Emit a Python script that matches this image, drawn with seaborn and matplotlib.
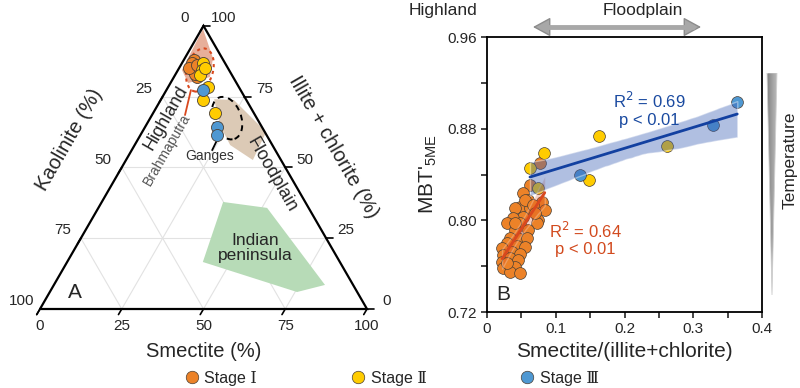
import numpy as np
import matplotlib
matplotlib.use('Agg')
import matplotlib.pyplot as plt
import seaborn as sns
from matplotlib.patches import Polygon, Ellipse, FancyArrowPatch
from matplotlib.lines import Line2D

sns.set_style('white')
plt.rcParams['font.family'] = ['Liberation Sans', 'DejaVu Sans']

# ---- data: ternary clay mineralogy (smectite %, illite+chlorite %) ----
tern_s1 = [3, 3, 6, 7, 6, 3, 5]
tern_i1 = [88, 87, 84, 82, 83, 85, 86]
tern_s2 = [6.4, 7.3, 7.6, 8.0, 12.2, 12.9, 18.9]
tern_i2 = [86.9, 84.4, 82.7, 85.1, 78.4, 73.8, 69.2]
tern_s3 = [11.2, 22.0, 23.4]
tern_i3 = [77.3, 64.3, 61.4]

# source fields (smectite %, illite+chlorite %)
brahma_s = [0.4, 8.6, 11.0, 5.4, 1.2]
brahma_i = [98.9, 88.6, 81.9, 79.8, 84.4]
ganges_s = [16.2, 22.4, 37.9, 38.8, 29.2, 22.5]
ganges_i = [74.1, 73.8, 62.5, 52.6, 57.9, 65.0]
india_s = [37.1, 51.6, 82.9, 75.6, 41.5]
india_i = [37.8, 35.7, 8.5, 6.0, 16.6]

# ---- data: MBT'5ME vs smectite/(illite+chlorite) ----
ratio1 = [0.0625, 0.052, 0.060, 0.048, 0.080, 0.084, 0.0625, 0.041, 0.052, 0.074,
          0.038, 0.029, 0.048, 0.073, 0.041, 0.060, 0.033, 0.048, 0.058, 0.029,
          0.044, 0.055, 0.022, 0.036, 0.048, 0.023, 0.033, 0.045, 0.022, 0.031,
          0.041, 0.023, 0.033, 0.048, 0.029, 0.055, 0.067, 0.077, 0.041, 0.070]
mbt1 = [0.831, 0.824, 0.818, 0.812, 0.816, 0.809, 0.811, 0.811, 0.803, 0.800,
        0.802, 0.798, 0.798, 0.798, 0.792, 0.792, 0.785, 0.784, 0.785, 0.780,
        0.778, 0.777, 0.776, 0.772, 0.771, 0.770, 0.767, 0.765, 0.764, 0.761,
        0.759, 0.758, 0.755, 0.754, 0.763, 0.818, 0.813, 0.850, 0.798, 0.806]
ratio2 = [0.0625, 0.083, 0.074, 0.148, 0.163, 0.262]
mbt2 = [0.846, 0.859, 0.828, 0.835, 0.874, 0.865]
ratio3 = [0.135, 0.329, 0.364]
mbt3 = [0.840, 0.883, 0.903]

stage_labels = ['Stage \u2160', 'Stage \u2161', 'Stage \u2162']
c_orange, c_yellow, c_blue = '#ec8228', '#ffcc00', '#4f98d2'
edge = '#4a4036'


def tern_xy(s, i):
    s = np.asarray(s, float)
    i = np.asarray(i, float)
    return s + i / 2, i * np.sqrt(3) / 2


fig = plt.figure(figsize=(8, 3.88), dpi=100)

# ================= A: ternary =================
ax = fig.add_axes([0, 0, 0.5, 1])
ax.set_xlim(-12.23, 110.09)
ax.set_ylim(-24.16, 94.5)
ax.axis('off')

h = np.sqrt(3) / 2
for v in [25, 50, 75]:
    for (s0, i0), (s1, i1) in [((v, 0), (v, 100 - v)), ((0, v), (100 - v, v)),
                               ((100 - v, 0), (0, 100 - v))]:
        x, y = tern_xy([s0, s1], [i0, i1])
        ax.plot(x, y, color='#e2e2e2', lw=0.8, zorder=0)

ax.plot([0, 100, 50, 0], [0, 0, 100 * h, 0], color='black', lw=1.6, zorder=3,
        solid_joinstyle='miter')

ticks = [0, 25, 50, 75, 100]
for v in ticks:
    # bottom axis: smectite
    x, y = tern_xy(v, 0)
    ax.plot([x, x - 1.0], [y, y - 1.7], color='black', lw=1.2)
    ax.text(x, y - 5.2, str(v), ha='center', va='center', fontsize=11)
    # left axis: kaolinite
    x, y = tern_xy(0, 100 - v)
    ax.plot([x, x - 1.0], [y, y - 1.7], color='black', lw=1.2)
    ax.text(x - 5.7, y + 2.4, str(v), ha='center', va='center', fontsize=11)
    # right axis: illite + chlorite
    x, y = tern_xy(100 - v, v)
    ax.plot([x, x + 2.0], [y, y], color='black', lw=1.2)
    ax.text(x + 6.1, y + 2.4, str(v), ha='center', va='center', fontsize=11)

ax.text(50, -13.1, 'Smectite (%)', ha='center', va='center', fontsize=14.5)
ax.text(9.0, 51.7, 'Kaolinite (%)', ha='center', va='center', fontsize=14.5,
        rotation=60)
ax.text(89.6, 49.5, 'Illite + chlorite (%)', ha='center', va='center',
        fontsize=14.5, rotation=-60)

for s, i, col, a in [(brahma_s, brahma_i, '#e09478', 0.75),
                     (ganges_s, ganges_i, '#dccab6', 1.0),
                     (india_s, india_i, '#b7dbb7', 1.0)]:
    x, y = tern_xy(s, i)
    ax.add_patch(Polygon(np.column_stack([x, y]), closed=True, facecolor=col,
                         edgecolor='none', alpha=a, zorder=1))

ex, ey = tern_xy(6.7, 84.4)
ax.add_patch(Ellipse((ex, ey), 8, 13.5, angle=-15, fill=False, ec='#d9481e',
                     lw=1.5, ls=(0, (1.5, 1.8)), zorder=2))
ex, ey = tern_xy(23.5, 67.4)
ax.add_patch(Ellipse((ex, ey), 8.6, 13.5, angle=20, fill=False, ec='black',
                     lw=1.4, ls=(0, (3, 2.5)), zorder=2))
x, y = tern_xy([7.5, 10.1], [77.3, 68.5])
ax.plot(x, y, color='#d9481e', lw=1.3, zorder=2)
x, y = tern_xy([24.6, 24.1], [56.1, 62.5])
ax.plot(x, y, color='black', lw=1.3, zorder=2)

for s, i, col in [(tern_s1, tern_i1, c_orange), (tern_s2, tern_i2, c_yellow),
                  (tern_s3, tern_i3, c_blue)]:
    x, y = tern_xy(s, i)
    sns.scatterplot(x=x, y=y, ax=ax, color=col, s=75, edgecolor=edge,
                    linewidth=0.6, zorder=4, legend=False)

ax.text(38.5, 58.4, 'Highland', rotation=60, ha='center', va='center',
        fontsize=13)
ax.text(38.8, 48.6, 'Brahmaputra', rotation=60, ha='center', va='center',
        fontsize=10, color='#555555')
ax.text(52.0, 46.8, 'Ganges', ha='center', va='center', fontsize=10,
        color='#333333')
ax.text(70.9, 41.0, 'Floodplain', rotation=-60, ha='center', va='center',
        fontsize=13)
ax.text(65.7, 18.7, 'Indian\npeninsula', ha='center', va='center',
        fontsize=12.5, linespacing=1.05)
ax.text(10.7, 4.9, 'A', ha='center', va='center', fontsize=15)

# ================= B: MBT'5ME vs ratio =================
bx = fig.add_axes([487 / 800, 76 / 388, 275 / 800, 275 / 388])
for sp in bx.spines.values():
    sp.set_color('black')
    sp.set_linewidth(1.3)

for xs, ys, col in [(ratio1, mbt1, c_orange), (ratio2, mbt2, c_yellow),
                    (ratio3, mbt3, c_blue)]:
    sns.scatterplot(x=xs, y=ys, ax=bx, color=col, s=72, edgecolor=edge,
                    linewidth=0.5, legend=False)

sns.regplot(x=ratio1, y=mbt1, ax=bx, scatter=False, ci=95, seed=3, truncate=True,
            color='#d9481e', line_kws=dict(lw=2))
bx.collections[-1].set_alpha(0.25)
sns.regplot(x=ratio2 + ratio3, y=mbt2 + mbt3, ax=bx, scatter=False, ci=95,
            seed=3, truncate=True, color='#1240a0', line_kws=dict(lw=2))
bx.collections[-1].set_facecolor('#3a5fb5')
bx.collections[-1].set_alpha(0.4)

bx.set_xlim(0, 0.4)
bx.set_ylim(0.72, 0.96)
bx.set_xticks(np.arange(0, 0.41, 0.1))
bx.set_xticks(np.arange(0, 0.41, 0.05), minor=True)
bx.set_xticklabels(['0', '0.1', '0.2', '0.3', '0.4'])
bx.set_yticks([0.72, 0.80, 0.88, 0.96])
bx.set_yticks(np.arange(0.72, 0.961, 0.04), minor=True)
bx.set_yticklabels(['0.72', '0.80', '0.88', '0.96'])
bx.tick_params(which='both', direction='out', length=4, width=1.2,
               bottom=True, left=True, labelsize=11)
bx.set_xlabel('Smectite/(illite+chlorite)', fontsize=15, labelpad=4)
bx.set_ylabel("MBT'$_{\\mathregular{5ME}}$", fontsize=15, labelpad=6)

bx.text(0.236, 0.897, 'R$^2$ = 0.69\np < 0.01', color='#1a4aa0', fontsize=12,
        ha='center', va='center', linespacing=1.15)
bx.text(0.1425, 0.7837, 'R$^2$ = 0.64\np < 0.01', color='#d24a1e', fontsize=12,
        ha='center', va='center', linespacing=1.15)
bx.text(0.023, 0.735, 'B', fontsize=15, ha='center', va='center')

# top arrow
fig.text(443 / 800, 1 - 10 / 388, 'Highland', ha='center', va='center',
         fontsize=12.5)
fig.text(643 / 800, 1 - 10 / 388, 'Floodplain', ha='center', va='center',
         fontsize=12.5)
fig.add_artist(FancyArrowPatch(
    (533 / 800, 1 - 27 / 388), (701 / 800, 1 - 27 / 388),
    transform=fig.transFigure, arrowstyle='<|-|>,head_length=1.1,head_width=0.6',
    mutation_scale=10, fc='#a8a8a8', ec='#8c8c8c', lw=1.0,
    shrinkA=0, shrinkB=0))
fig.add_artist(Line2D([541 / 800, 693 / 800], [1 - 27 / 388] * 2,
                      transform=fig.transFigure, color='#a8a8a8', lw=3.5))

# temperature wedge
wx = fig.add_axes([764 / 800, 1 - 295 / 388, 16 / 800, 222 / 388])
wx.set_xlim(0, 1)
wx.set_ylim(0, 1)
wx.axis('off')
grad = np.tile(np.linspace(0.45, 0.8, 50), (10, 1))
im = wx.imshow(grad, cmap='gray', vmin=0, vmax=1, extent=[0, 1, 0, 1],
               aspect='auto')
tri = Polygon([[0.19, 1], [0.81, 1], [0.5, 0]], closed=True,
              transform=wx.transData, facecolor='none', edgecolor='none')
wx.add_patch(tri)
im.set_clip_path(tri)
wx.plot([0.19, 0.81, 0.5, 0.19], [1, 1, 0, 1], color='#cfcfcf', lw=0.6)
fig.text(790 / 800, 1 - 160 / 388, 'Temperature', rotation=90, ha='center',
         va='center', fontsize=12.5)

# legend
handles = [Line2D([], [], ls='none', marker='o', ms=9, mfc=c, mec=edge, mew=0.5)
           for c in [c_orange, c_yellow, c_blue]]
fig.legend(handles, stage_labels, loc='center', bbox_to_anchor=(0.49, 0.025),
           ncol=3, frameon=False, handlelength=0.8, handletextpad=0.4,
           columnspacing=5.9, prop=dict(family=['Liberation Sans', 'DejaVu Serif'],
                                         size=11.5))

fig.savefig('out.png', dpi=100)
